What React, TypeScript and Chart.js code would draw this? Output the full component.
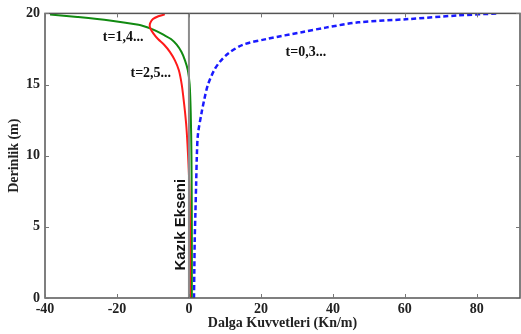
import React, { useEffect, useRef } from "react";
import { Chart, registerables } from "chart.js";

Chart.register(...registerables);

// Depth (m) and wave force (kN/m) per time curve
const blueDepth = [0, 2, 4, 6, 8, 10, 11.5, 13, 14, 15, 16, 16.6, 17.2, 17.8, 18.2, 18.7, 19.0, 19.37, 19.6, 19.86, 20];
const blueForce = [1.4, 1.5, 1.6, 1.8, 2.0, 2.2, 2.5, 3.5, 4.3, 5.3, 7, 8.6, 11, 15, 21.6, 31.7, 38, 47, 61, 75, 86];

const greenDepth = [0, 5, 10, 13, 15, 16, 16.7, 17.3, 17.8, 18.2, 18.5, 18.75, 18.95, 19.1, 19.2, 19.5, 19.75, 19.93];
const greenForce = [0.8, 0.8, 0.7, 0.5, 0.2, -0.3, -1.1, -2.1, -3.4, -5, -7.1, -9, -10.8, -12.5, -14, -22, -31, -38.6];

const redDepth = [0, 5, 8, 10.3, 12, 13.1, 14, 15, 16, 16.7, 17.3, 17.8, 18.2, 18.6, 19.0, 19.3, 19.6, 19.8, 19.93];
const redForce = [0.3, 0.3, 0.1, -0.3, -0.7, -1.1, -1.5, -2, -2.8, -3.9, -5.3, -6.9, -8.6, -9.9, -10.8, -10.8, -10, -8.5, -6.7];

const axisDepth = [0, 20];
const axisForce = [0, 0];

const xTicks = [-40, -20, 0, 20, 40, 60, 80];
const yTicks = [0, 5, 10, 15, 20];

const curveLabels = ["t=1,4...", "t=2,5...", "t=0,3..."];
const curveLabelX = [-18.3, -10.6, 32.5];
const curveLabelY = [18.33, 15.75, 17.28];

const pileLabel = "Kazık Ekseni";
const pileLabelX = -2.3;
const pileLabelY = 5.15;

const toPts = (xs: number[], ys: number[]) => xs.map((x, i) => ({ x, y: ys[i] }));

const decorPlugin = {
  id: "decor",
  afterDatasetsDraw(chart: any) {
    const { ctx, chartArea: a, scales } = chart;
    const xs = scales.x, ys = scales.y;
    ctx.save();
    // box
    ctx.strokeStyle = "#555";
    ctx.lineWidth = 1.5;
    ctx.strokeRect(a.left, a.top, a.right - a.left, a.bottom - a.top);
    // inward ticks
    ctx.strokeStyle = "#777";
    ctx.lineWidth = 1;
    xTicks.forEach((v) => {
      const px = Math.round(xs.getPixelForValue(v)) + 0.5;
      ctx.beginPath();
      ctx.moveTo(px, a.bottom); ctx.lineTo(px, a.bottom - 4);
      ctx.moveTo(px, a.top); ctx.lineTo(px, a.top + 4);
      ctx.stroke();
    });
    yTicks.forEach((v) => {
      const py = Math.round(ys.getPixelForValue(v)) + 0.5;
      ctx.beginPath();
      ctx.moveTo(a.left, py); ctx.lineTo(a.left + 4, py);
      ctx.moveTo(a.right, py); ctx.lineTo(a.right - 4, py);
      ctx.stroke();
    });
    // curve labels
    ctx.fillStyle = "#111";
    ctx.font = "bold 14px 'Liberation Serif', serif";
    ctx.textAlign = "center";
    ctx.textBaseline = "middle";
    curveLabels.forEach((t, i) => {
      ctx.fillText(t, xs.getPixelForValue(curveLabelX[i]), ys.getPixelForValue(curveLabelY[i]));
    });
    // pile axis label
    ctx.translate(xs.getPixelForValue(pileLabelX), ys.getPixelForValue(pileLabelY));
    ctx.rotate(-Math.PI / 2);
    ctx.font = "bold 15px 'Liberation Sans', sans-serif";
    ctx.fillText(pileLabel, 0, 0);
    ctx.restore();
  },
};

export default function App() {
  const ref = useRef<HTMLCanvasElement>(null);
  useEffect(() => {
    const font = { family: "'Liberation Serif', serif", size: 14, weight: "bold" as const };
    const chart = new Chart(ref.current!, {
      type: "scatter",
      data: {
        datasets: [
          {
            data: toPts(axisForce, axisDepth),
            borderColor: "#8c8c8c",
            borderWidth: 2,
            showLine: true,
            pointRadius: 0,
          },
          {
            data: toPts(redForce, redDepth),
            borderColor: "#ff1a1a",
            borderWidth: 2,
            showLine: true,
            pointRadius: 0,
            tension: 0.3,
          },
          {
            data: toPts(greenForce, greenDepth),
            borderColor: "#118a11",
            borderWidth: 2,
            showLine: true,
            pointRadius: 0,
            tension: 0.3,
          },
          {
            data: toPts(blueForce, blueDepth),
            borderColor: "#1a1aff",
            borderWidth: 2.5,
            borderDash: [5, 3],
            showLine: true,
            pointRadius: 0,
            tension: 0.3,
          },
        ],
      },
      options: {
        animation: false,
        responsive: false,
        devicePixelRatio: 1,
        layout: { padding: { top: 11, right: 1, left: 0, bottom: 0 } },
        plugins: { legend: { display: false }, tooltip: { enabled: false } },
        scales: {
          x: {
            type: "linear",
            min: -40,
            max: 92,
            grid: { display: false, drawTicks: false, tickLength: 0 },
            border: { display: false },
            afterBuildTicks: (s: any) => { s.ticks = xTicks.map((v) => ({ value: v })); },
            afterFit: (s: any) => { s.height = 36; },
            ticks: { color: "#222", font, padding: 3, maxRotation: 0, autoSkip: false },
            title: { display: true, text: "Dalga Kuvvetleri (Kn/m)", color: "#222", font, padding: { top: 0, bottom: 2 } },
          },
          y: {
            type: "linear",
            min: 0,
            max: 20,
            grid: { display: false, drawTicks: false, tickLength: 0 },
            border: { display: false },
            afterBuildTicks: (s: any) => { s.ticks = yTicks.map((v) => ({ value: v })); },
            afterFit: (s: any) => { s.width = 45; },
            ticks: { color: "#222", font, padding: 5, autoSkip: false },
            title: { display: true, text: "Derinlik (m)", color: "#222", font, padding: { top: 6, bottom: 4 } },
          },
        },
      },
      plugins: [decorPlugin],
    });
    return () => chart.destroy();
  }, []);
  return (
    <div style={{ position: "fixed", left: 0, top: 0, width: 521, height: 334, background: "#fff" }}>
      <canvas ref={ref} width={521} height={334} />
    </div>
  );
}
